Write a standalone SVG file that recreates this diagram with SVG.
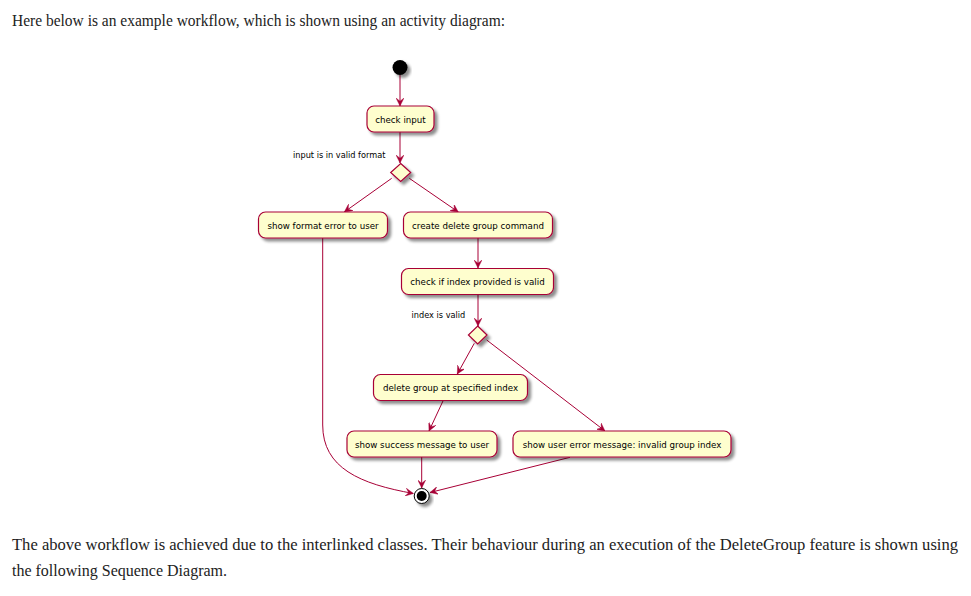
<svg xmlns="http://www.w3.org/2000/svg" width="971" height="596" viewBox="0 0 971 596">
<style>
.page{font-family:"Liberation Serif","Times New Roman",serif;font-size:16px;fill:#222}
.act rect{fill:#FEFECE;stroke:#A80036;stroke-width:1.2}
.dia polygon{fill:#FEFECE;stroke:#A80036;stroke-width:1.2}
.t{font-family:"DejaVu Sans",sans-serif;font-size:8.7px;fill:#000;text-anchor:middle}
.lbl{font-family:"DejaVu Sans",sans-serif;font-size:8.2px;fill:#000}
.edges path{fill:none;stroke:#A80036;stroke-width:1;marker-end:url(#ah)}
</style>
<defs>
<filter id="sh" x="-20%" y="-20%" width="150%" height="160%">
<feGaussianBlur in="SourceAlpha" stdDeviation="1.5"/>
<feOffset dx="2.5" dy="2.5" result="b"/>
<feComponentTransfer><feFuncA type="linear" slope="0.45"/></feComponentTransfer>
<feMerge><feMergeNode/><feMergeNode in="SourceGraphic"/></feMerge>
</filter>
<marker id="ah" viewBox="0 0 10 10" refX="10" refY="5" markerWidth="8" markerHeight="8" markerUnits="userSpaceOnUse" orient="auto">
<path d="M0,0 L10,5 L0,10 L4,5 Z" fill="#A80036" stroke="#A80036" stroke-width="0.5"/>
</marker>
</defs>
<rect width="971" height="596" fill="#fff"/>
<text class="page" x="12" y="26" textLength="493" lengthAdjust="spacingAndGlyphs">Here below is an example workflow, which is shown using an activity diagram:</text>
<text class="page" x="12" y="550" textLength="946" lengthAdjust="spacingAndGlyphs">The above workflow is achieved due to the interlinked classes. Their behaviour during an execution of the DeleteGroup feature is shown using</text>
<text class="page" x="12" y="576" textLength="215" lengthAdjust="spacingAndGlyphs">the following Sequence Diagram.</text>

<g class="edges">
<path d="M400,75 L400,106"/>
<path d="M400,132 L400,163"/>
<path d="M391.7,178.3 L344.3,212"/>
<path d="M409.3,178.3 L458.3,212"/>
<path d="M478,238 L478,268"/>
<path d="M478,294 L478,326"/>
<path d="M474.3,343.3 L457.3,374"/>
<path d="M486.7,340 L605,431"/>
<path d="M443.3,400.3 L429,431"/>
<path d="M421.7,457 L421.7,488"/>
<path d="M570,457.3 L430,492.5"/>
<path d="M322.7,238 L322.7,425 C322.7,468 360,484 413.5,493.5"/>
</g>

<g id="start"><circle cx="400" cy="67.5" r="7.5" fill="#000" filter="url(#sh)"/></g>

<g id="check-input" class="act"><rect x="367" y="106" width="67" height="26" rx="7" filter="url(#sh)"/><text class="t" x="400.5" y="122.5">check input</text></g>

<g id="decision1" class="dia"><polygon points="400.7,163.5 410.7,172.5 400.7,181.5 390.7,172.5" filter="url(#sh)"/><text class="lbl" x="293" y="157.5">input is in valid format</text></g>

<g id="show-format-error" class="act"><rect x="258.5" y="212" width="129" height="26" rx="7" filter="url(#sh)"/><text class="t" x="323" y="228.5">show format error to user</text></g>

<g id="create-delete" class="act"><rect x="403.5" y="212" width="149" height="26" rx="7" filter="url(#sh)"/><text class="t" x="478" y="228.5">create delete group command</text></g>

<g id="check-index" class="act"><rect x="401.5" y="268.5" width="152" height="26" rx="7" filter="url(#sh)"/><text class="t" x="477.5" y="285">check if index provided is valid</text></g>

<g id="decision2" class="dia"><polygon points="477.7,326 487,335 477.7,344 468.4,335" filter="url(#sh)"/><text class="lbl" x="411.5" y="317.5">index is valid</text></g>

<g id="delete-group" class="act"><rect x="373.5" y="374.5" width="154" height="26" rx="7" filter="url(#sh)"/><text class="t" x="450.5" y="391">delete group at specified index</text></g>

<g id="show-success" class="act"><rect x="347" y="431" width="150" height="26" rx="7" filter="url(#sh)"/><text class="t" x="422" y="447.5">show success message to user</text></g>

<g id="show-user-error" class="act"><rect x="513" y="431" width="218" height="26" rx="7" filter="url(#sh)"/><text class="t" x="622" y="447.5">show user error message: invalid group index</text></g>

<g id="end"><circle cx="421.7" cy="496" r="7.5" fill="#fff" stroke="#000" stroke-width="1" filter="url(#sh)"/><circle cx="421.7" cy="496" r="5" fill="#000"/></g>
</svg>
